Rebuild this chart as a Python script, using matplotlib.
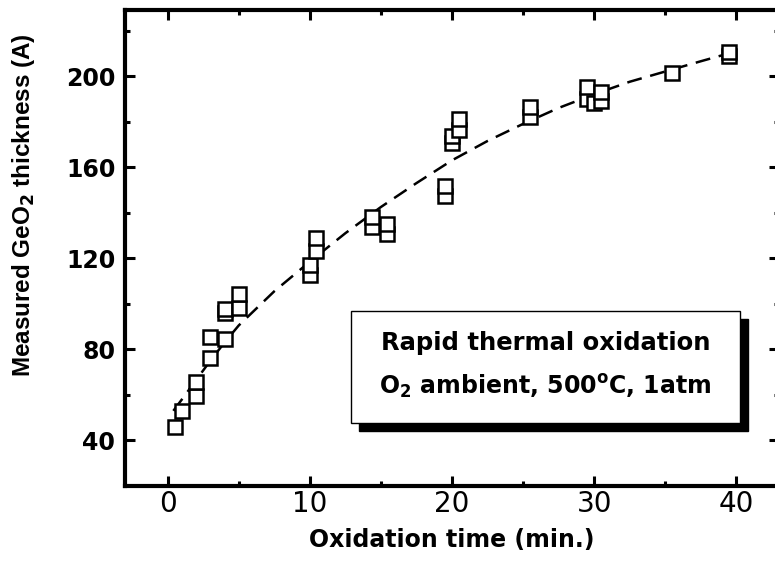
import matplotlib
matplotlib.use('Agg')
import matplotlib.pyplot as plt
from matplotlib.patches import Rectangle
from matplotlib.ticker import MultipleLocator

plt.rcParams['font.family'] = ['DejaVu Sans']
plt.rcParams['mathtext.fontset'] = 'dejavusans'
plt.rcParams['mathtext.default'] = 'bf'

# measured points (oxidation time in min, thickness in A)
time_min = [0.5, 1.0, 2.0, 2.0, 3.0, 3.0, 4.0, 4.0, 4.0, 5.0, 5.0,
            10.0, 10.0, 10.4, 10.4, 14.4, 14.4, 15.4, 15.4,
            19.5, 19.5, 20.0, 20.0, 20.5, 20.5, 25.5, 25.5,
            29.5, 29.5, 30.0, 30.5, 30.5, 35.5, 39.5, 39.5]
thickness = [46, 53, 59.5, 65.8, 76, 85.6, 84.7, 96, 97.5, 98.3, 104.2,
             112.5, 117, 123, 128.8, 133.8, 137.9, 130.8, 134.9,
             147.5, 151.6, 170.5, 173.5, 176.5, 181, 182.2, 186.6,
             189.9, 195, 188, 189.1, 192.8, 201.3, 209, 210.5]

# dashed guide curve
fit_time = [0.4, 1, 2, 3, 4, 5, 7.5, 10, 12.5, 15, 17.5, 20,
            22.5, 25, 27.5, 30, 32.5, 35, 37.5, 39.5]
fit_thick = [53, 58, 66.5, 75, 83, 90.5, 105.5, 118.5, 131, 142.5, 153, 163,
             171.5, 179, 186, 192, 197.5, 202, 206.5, 210]

fig = plt.figure(figsize=(7.75, 5.75), dpi=100)
ax = fig.add_axes([0.1613, 0.1548, 0.8439, 0.8278])

ax.plot(fit_time, fit_thick, color='black', lw=1.8, dashes=(6, 3.5))
ax.plot(time_min, thickness, ls='none', marker='s', ms=9.5, mfc='white',
        mec='black', mew=1.8)

ax.set_xlim(-3, 43)
ax.set_ylim(20, 229)
ax.xaxis.set_major_locator(MultipleLocator(10))
ax.xaxis.set_minor_locator(MultipleLocator(5))
ax.set_yticks([40, 80, 120, 160, 200])
ax.set_yticks([60, 100, 140, 180, 220], minor=True)

for s in ax.spines.values():
    s.set_linewidth(3)
ax.tick_params(which='both', direction='in', top=True, right=True, width=2.2)
ax.tick_params(which='major', length=7)
ax.tick_params(which='minor', length=3.5)
ax.tick_params(axis='x', labelsize=20, pad=3)
ax.tick_params(axis='y', labelsize=17, pad=7)
for lab in ax.get_yticklabels():
    lab.set_fontweight('bold')

ax.set_xlabel('Oxidation time (min.)', fontsize=17, fontweight='bold', labelpad=7)
ax.set_ylabel(r'Measured GeO$_2$ thickness (A)', fontsize=17.5, fontweight='bold',
              family='Liberation Sans')
ax.yaxis.set_label_coords(-0.1346, 0.59)

# annotation box with drop shadow
bx, by, bw, bh = 0.345, 0.1317, 0.5957, 0.2366
ax.add_patch(Rectangle((bx + 0.0123, by - 0.0168), bw, bh, transform=ax.transAxes,
                       facecolor='black', edgecolor='black', zorder=4))
ax.add_patch(Rectangle((bx, by), bw, bh, transform=ax.transAxes,
                       facecolor='white', edgecolor='black', lw=1, zorder=5))
ax.text(0.6426, 0.300, 'Rapid thermal oxidation', transform=ax.transAxes,
        ha='center', va='center', fontsize=17.5, fontweight='bold', zorder=6)
ax.text(0.6426, 0.2086, r'O$_2$ ambient, 500$^o$C, 1atm', transform=ax.transAxes,
        ha='center', va='center', fontsize=17, fontweight='bold', zorder=6)

fig.savefig('out.png', dpi=100)
